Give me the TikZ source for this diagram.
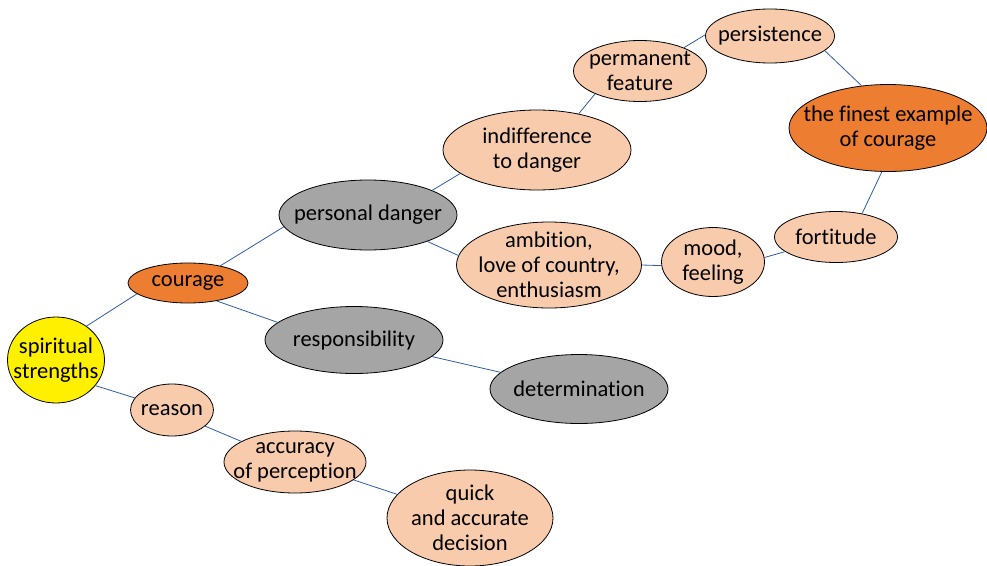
\documentclass[tikz,border=0pt]{standalone}
\usepackage{fontspec}
\setmainfont[Ligatures=NoCommon]{Carlito}
\usetikzlibrary{shapes.geometric}
\definecolor{peach}{HTML}{F8CBAD}
\definecolor{darkorange}{HTML}{ED7D31}
\definecolor{midgray}{HTML}{A5A5A5}
\definecolor{brightyellow}{HTML}{FFF000}
\definecolor{linkblue}{HTML}{2F5BA8}

\begin{document}
\begin{tikzpicture}[x=1pt,y=-1pt,semithick,
  bubble/.style={ellipse,draw=black,line width=0.8pt,inner xsep=-30pt,inner ysep=-25pt,
    align=center,font=\fontsize{22.5}{25}\selectfont},
  light/.style={bubble,fill=peach},
  dark/.style={bubble,fill=darkorange},
  grey/.style={bubble,fill=midgray},
  link/.style={draw=linkblue,line width=0.8pt}]
\useasboundingbox (0,0) rectangle (987,565);
% left part
\node[bubble,fill=brightyellow,minimum width=97,minimum height=86] (Spirit) at (56,360) {spiritual\\strengths};
\node[dark,minimum width=120,minimum height=40] (Courage) at (188,283) {courage};
\node[light,minimum width=83,minimum height=52] (Reason) at (172,410) {reason};
\node[light,minimum width=142,minimum height=62] (Accuracy) at (295,462) {accuracy\\of perception};
\node[light,minimum width=166,minimum height=96] (Quick) at (470,518) {quick\\and accurate\\decision};
% middle
\node[grey,minimum width=178,minimum height=70] (Danger) at (368,215) {personal danger};
\node[grey,minimum width=178,minimum height=67] (Resp) at (354,340) {responsibility};
\node[grey,minimum width=178,minimum height=69] (Determ) at (579,389) {determination};
\node[light,minimum width=188,minimum height=80] (Indiff) at (537,150) {indifference\\to danger};
\node[light,minimum width=185,minimum height=86] (Ambition) at (549,265) {ambition,\\love of country,\\enthusiasm};
% right part
\node[light,minimum width=103,minimum height=69] (Mood) at (713,262) {mood,\\feeling};
\node[light,minimum width=123,minimum height=51] (Fortitude) at (836,237) {fortitude};
\node[dark,minimum width=198,minimum height=87] (Finest) at (888,128) {the finest example\\of courage};
\node[light,minimum width=129,minimum height=54] (Persist) at (770,36) {persistence};
\node[light,minimum width=133,minimum height=61] (Perm) at (640,71) {permanent\\feature};

% links: node.angle -- node.angle
\foreach \a/\aa/\b/\bb in {Spirit/48/Courage/192,Spirit/-33/Reason/162,
  Courage/28/Danger/188,Courage/-32/Resp/167,Reason/-26/Accuracy/159,
  Accuracy/-17/Quick/162,Danger/21/Indiff/197,Danger/-24/Ambition/174,
  Resp/-12/Determ/168,Indiff/41/Perm/207,Perm/28/Persist/179,
  Persist/-15/Finest/122,Ambition/0/Mood/184,Mood/5/Fortitude/196,
  Fortitude/42/Finest/262}
  \draw[link] (\a.\aa) -- (\b.\bb);
\end{tikzpicture}
\end{document}
